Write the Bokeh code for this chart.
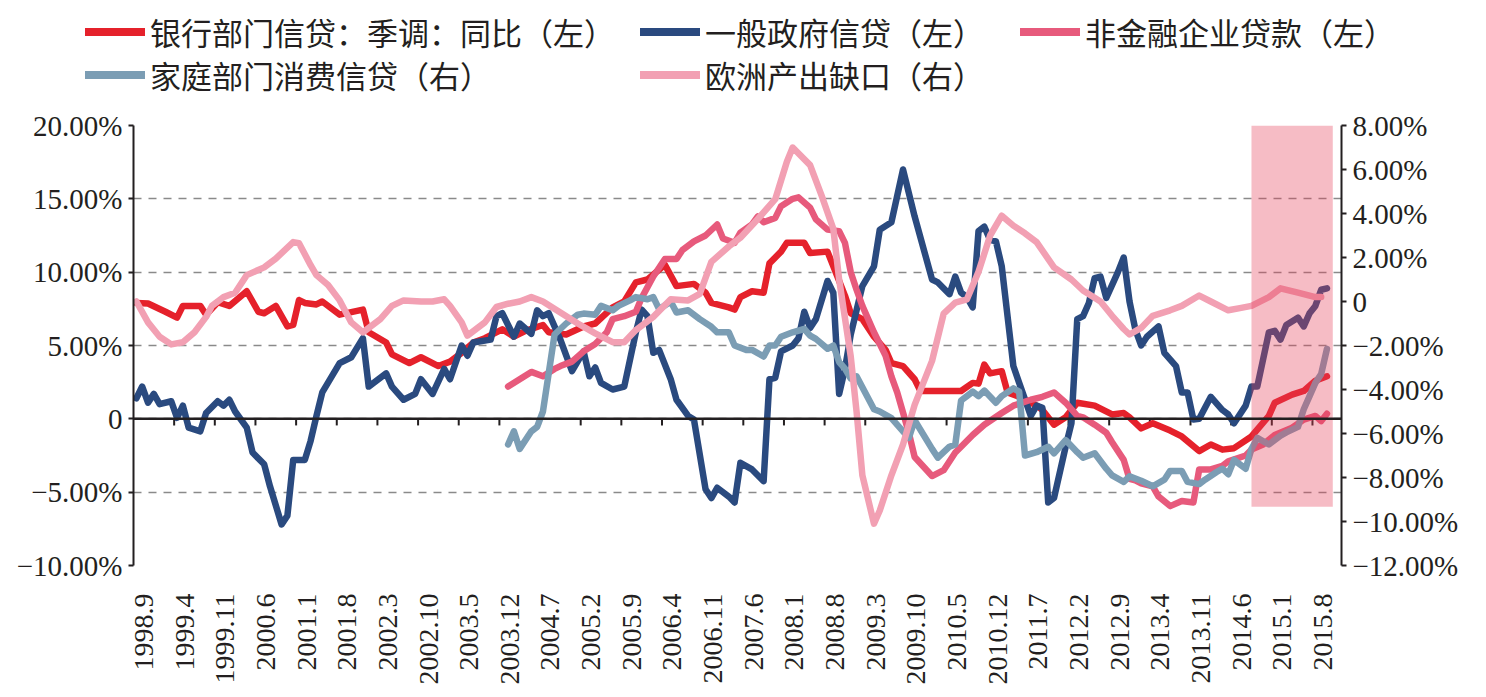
import math

from bokeh.embed import file_html
from bokeh.layouts import column
from bokeh.models import Div, FixedTicker, LinearAxis, Range1d, Span
from bokeh.plotting import figure
from bokeh.resources import INLINE

# ---------------------------------------------------------------------------
# Category axis: monthly slots from 1998.9; labels every 7 months
# ---------------------------------------------------------------------------
month_slots = 208
tick_labels = [
    "1998.9", "1999.4", "1999.11", "2000.6", "2001.1", "2001.8", "2002.3",
    "2002.10", "2003.5", "2003.12", "2004.7", "2005.2", "2005.9", "2006.4",
    "2006.11", "2007.6", "2008.1", "2008.8", "2009.3", "2009.10", "2010.5",
    "2010.12", "2011.7", "2012.2", "2012.9", "2013.4", "2013.11", "2014.6",
    "2015.1", "2015.8",
]

left_ticks = [-10, -5, 0, 5, 10, 15, 20]
right_ticks = [-12, -10, -8, -6, -4, -2, 0, 2, 4, 6, 8]

# highlighted period (left-axis value of its lower edge)
shaded_period = ("2014.9", "2015.10")
shaded_floor = -6.0

# ---------------------------------------------------------------------------
# Series: (month, value in %)
# ---------------------------------------------------------------------------
bank_credit = [  # 银行部门信贷：季调：同比（左）
    ("1998.9", 7.9), ("1998.11", 7.86), ("1999.2", 7.3), ("1999.4", 6.9),
    ("1999.5", 7.7), ("1999.8", 7.7), ("1999.9", 7.1), ("1999.11", 7.95),
    ("2000.1", 7.7), ("2000.4", 8.7), ("2000.6", 7.3), ("2000.7", 7.2),
    ("2000.9", 7.7), ("2000.11", 6.3), ("2000.12", 6.4), ("2001.1", 8.1),
    ("2001.2", 7.9), ("2001.4", 7.8), ("2001.5", 8.0), ("2001.8", 7.1),
    ("2001.12", 7.45), ("2002.1", 5.9), ("2002.4", 5.2), ("2002.5", 4.4),
    ("2002.8", 3.8), ("2002.10", 4.2), ("2003.1", 3.6), ("2003.3", 3.9),
    ("2003.5", 4.5), ("2003.7", 5.2), ("2003.9", 5.5), ("2003.12", 6.1),
    ("2004.2", 5.6), ("2004.4", 6.0), ("2004.7", 6.4), ("2004.8", 5.9),
    ("2004.11", 5.75), ("2005.2", 6.3), ("2005.4", 6.5), ("2005.7", 7.6),
    ("2005.9", 8.0), ("2005.11", 9.3), ("2006.1", 9.5), ("2006.4", 10.5),
    ("2006.6", 9.05), ("2006.9", 9.2), ("2006.11", 8.6), ("2006.12", 7.9),
    ("2007.3", 7.6), ("2007.4", 7.45), ("2007.5", 8.3), ("2007.7", 8.7),
    ("2007.9", 8.6), ("2007.10", 10.6), ("2007.12", 11.4), ("2008.1", 12.0),
    ("2008.4", 12.0), ("2008.5", 11.3), ("2008.8", 11.4), ("2008.9", 10.4),
    ("2008.11", 8.4), ("2008.12", 7.2), ("2009.2", 6.8), ("2009.4", 5.6),
    ("2009.6", 4.7), ("2009.7", 3.8), ("2009.9", 3.6), ("2009.11", 2.7),
    ("2009.12", 1.9), ("2010.4", 1.9), ("2010.7", 1.9), ("2010.9", 2.45),
    ("2010.10", 2.4), ("2010.11", 3.7), ("2010.12", 3.1), ("2011.2", 3.25),
    ("2011.3", 1.8), ("2011.5", 1.5), ("2011.8", 0.9), ("2011.9", 0.6),
    ("2011.11", -0.4), ("2012.1", 0.1), ("2012.3", 1.1), ("2012.6", 0.9),
    ("2012.9", 0.3), ("2012.11", 0.4), ("2012.12", 0.1), ("2013.2", -0.65),
    ("2013.4", -0.3), ("2013.7", -0.8), ("2013.9", -1.2), ("2013.12", -2.2),
    ("2014.2", -1.75), ("2014.4", -2.1), ("2014.6", -2.0), ("2014.9", -1.2),
    ("2014.12", 0.2), ("2015.1", 1.1), ("2015.4", 1.65), ("2015.6", 1.9),
    ("2015.8", 2.6), ("2015.10", 2.9),
]

government_credit = [  # 一般政府信贷（左）
    ("1998.9", 1.4), ("1998.10", 2.2), ("1998.11", 1.1), ("1998.12", 1.7),
    ("1999.1", 1.0), ("1999.3", 1.2), ("1999.4", 0.07), ("1999.5", 0.9),
    ("1999.6", -0.6), ("1999.8", -0.85), ("1999.9", 0.4), ("1999.11", 1.2),
    ("1999.12", 0.9), ("2000.1", 1.3), ("2000.2", 0.5), ("2000.4", -0.6),
    ("2000.5", -2.3), ("2000.7", -3.1), ("2000.8", -4.6), ("2000.10", -7.2),
    ("2000.11", -6.6), ("2000.12", -2.8), ("2001.2", -2.8), ("2001.3", -1.5),
    ("2001.4", 0.2), ("2001.5", 1.8), ("2001.8", 3.8), ("2001.10", 4.2),
    ("2001.12", 5.5), ("2002.1", 2.2), ("2002.4", 3.1), ("2002.5", 2.2),
    ("2002.7", 1.3), ("2002.9", 1.7), ("2002.10", 2.7), ("2002.12", 1.7),
    ("2003.2", 3.4), ("2003.3", 2.7), ("2003.5", 5.0), ("2003.6", 4.3),
    ("2003.7", 5.2), ("2003.10", 5.4), ("2003.11", 7.0), ("2003.12", 7.2),
    ("2004.2", 5.6), ("2004.3", 6.5), ("2004.5", 5.8), ("2004.6", 7.4),
    ("2004.7", 7.0), ("2004.8", 7.2), ("2004.10", 5.4), ("2004.12", 3.25),
    ("2005.2", 4.6), ("2005.3", 2.9), ("2005.4", 3.5), ("2005.5", 2.45),
    ("2005.7", 2.0), ("2005.9", 2.2), ("2005.11", 5.9), ("2005.12", 7.45),
    ("2006.1", 7.0), ("2006.2", 4.5), ("2006.3", 4.7), ("2006.5", 2.7),
    ("2006.6", 1.3), ("2006.8", 0.2), ("2006.9", -0.05), ("2006.11", -4.8),
    ("2006.12", -5.4), ("2007.1", -4.7), ("2007.3", -5.3), ("2007.4", -5.7),
    ("2007.5", -3.0), ("2007.7", -3.45), ("2007.9", -4.25), ("2007.10", 2.7),
    ("2007.11", 2.8), ("2007.12", 4.6), ("2008.2", 5.0), ("2008.3", 5.5),
    ("2008.4", 7.3), ("2008.5", 6.2), ("2008.6", 6.8), ("2008.8", 9.4),
    ("2008.9", 8.6), ("2008.10", 1.7), ("2008.11", 3.4), ("2008.12", 5.75),
    ("2009.2", 9.05), ("2009.4", 10.4), ("2009.5", 12.9), ("2009.7", 13.4),
    ("2009.9", 17.0), ("2009.11", 13.8), ("2010.2", 9.5), ("2010.3", 9.3),
    ("2010.5", 8.5), ("2010.6", 9.7), ("2010.7", 8.6), ("2010.8", 8.3),
    ("2010.9", 7.6), ("2010.10", 12.8), ("2010.11", 13.1), ("2010.12", 12.2),
    ("2011.1", 12.1), ("2011.2", 10.4), ("2011.4", 3.6), ("2011.5", 2.45),
    ("2011.7", 0.2), ("2011.8", 0.9), ("2011.9", 0.75), ("2011.10", -5.7),
    ("2011.11", -5.4), ("2012.1", -1.9), ("2012.2", -0.3), ("2012.3", 6.8),
    ("2012.4", 7.0), ("2012.5", 7.9), ("2012.6", 9.6), ("2012.7", 9.7),
    ("2012.8", 8.25), ("2012.10", 10.0), ("2012.11", 11.0), ("2012.12", 8.0),
    ("2013.1", 6.1), ("2013.2", 5.0), ("2013.3", 5.6), ("2013.5", 6.3),
    ("2013.6", 4.5), ("2013.8", 3.6), ("2013.9", 1.8), ("2013.10", 1.8),
    ("2013.11", -0.05), ("2013.12", 0.0), ("2014.2", 1.5), ("2014.4", 0.6),
    ("2014.5", 0.3), ("2014.6", -0.3), ("2014.8", 0.9), ("2014.9", 2.2),
    ("2014.10", 2.2), ("2014.12", 5.9), ("2015.1", 6.0), ("2015.2", 5.4),
    ("2015.3", 6.4), ("2015.5", 6.9), ("2015.6", 6.3), ("2015.7", 7.2),
    ("2015.8", 7.7), ("2015.9", 8.8), ("2015.10", 8.9),
]

corporate_loans = [  # 非金融企业贷款（左）
    ("2004.1", 2.2), ("2004.3", 2.7), ("2004.5", 3.2), ("2004.7", 2.9),
    ("2004.9", 3.4), ("2004.10", 3.6), ("2004.12", 3.9), ("2005.2", 4.6),
    ("2005.4", 5.1), ("2005.6", 5.9), ("2005.7", 6.8), ("2005.9", 7.0),
    ("2005.11", 7.3), ("2005.12", 8.25), ("2006.2", 9.7), ("2006.4", 10.9),
    ("2006.6", 10.9), ("2006.7", 11.5), ("2006.9", 12.1), ("2006.11", 12.5),
    ("2007.1", 13.25), ("2007.2", 12.3), ("2007.4", 12.0), ("2007.5", 12.7),
    ("2007.7", 13.25), ("2007.8", 13.8), ("2007.9", 13.4), ("2007.11", 13.7),
    ("2007.12", 14.5), ("2008.2", 15.0), ("2008.3", 15.1), ("2008.5", 14.4),
    ("2008.6", 13.6), ("2008.8", 12.9), ("2008.10", 12.8), ("2008.11", 12.0),
    ("2008.12", 10.0), ("2009.1", 8.8), ("2009.2", 7.7), ("2009.4", 5.9),
    ("2009.6", 4.3), ("2009.7", 2.9), ("2009.8", 1.8), ("2009.10", -0.95),
    ("2009.11", -2.6), ("2010.2", -3.9), ("2010.4", -3.5), ("2010.6", -2.3),
    ("2010.7", -1.9), ("2010.9", -1.1), ("2010.11", -0.4), ("2011.2", 0.4),
    ("2011.4", 0.9), ("2011.7", 1.3), ("2011.9", 1.5), ("2011.11", 1.8),
    ("2012.1", 1.1), ("2012.3", 0.2), ("2012.4", 0.1), ("2012.6", -0.4),
    ("2012.8", -0.95), ("2012.9", -1.6), ("2012.11", -2.8), ("2012.12", -4.1),
    ("2013.1", -4.2), ("2013.2", -4.4), ("2013.4", -4.6), ("2013.5", -5.3),
    ("2013.7", -5.95), ("2013.9", -5.6), ("2013.11", -5.7), ("2013.12", -3.45),
    ("2014.2", -3.45), ("2014.4", -3.2), ("2014.5", -2.9), ("2014.8", -2.5),
    ("2014.9", -2.1), ("2014.11", -1.75), ("2015.1", -1.1), ("2015.4", -0.6),
    ("2015.6", -0.05), ("2015.8", 0.2), ("2015.9", -0.15), ("2015.10", 0.35),
]

household_credit = [  # 家庭部门消费信贷（右）
    ("2004.1", -6.5), ("2004.2", -5.9), ("2004.3", -6.7), ("2004.5", -5.9),
    ("2004.6", -5.7), ("2004.7", -5.0), ("2004.9", -1.5), ("2004.11", -1.0),
    ("2005.1", -0.6), ("2005.2", -0.55), ("2005.4", -0.6), ("2005.5", -0.2),
    ("2005.7", -0.4), ("2005.8", -0.2), ("2005.10", 0.05), ("2005.11", 0.2),
    ("2006.1", 0.1), ("2006.2", 0.2), ("2006.3", -0.35), ("2006.5", 0.0),
    ("2006.6", -0.5), ("2006.8", -0.4), ("2006.10", -0.8), ("2006.12", -1.15),
    ("2007.1", -1.4), ("2007.3", -1.4), ("2007.4", -2.0), ("2007.6", -2.2),
    ("2007.7", -2.2), ("2007.9", -2.5), ("2007.10", -2.0), ("2007.11", -2.0),
    ("2007.12", -1.6), ("2008.2", -1.4), ("2008.4", -1.25), ("2008.5", -1.55),
    ("2008.6", -1.7), ("2008.8", -2.15), ("2008.9", -2.0), ("2008.10", -2.75),
    ("2008.11", -3.05), ("2008.12", -3.5), ("2009.1", -3.4), ("2009.2", -3.9),
    ("2009.4", -4.9), ("2009.5", -5.0), ("2009.7", -5.3), ("2009.9", -5.9),
    ("2009.10", -6.2), ("2009.11", -5.4), ("2010.2", -6.7), ("2010.3", -7.1),
    ("2010.5", -6.6), ("2010.6", -6.5), ("2010.7", -4.5), ("2010.8", -4.3),
    ("2010.9", -4.1), ("2010.10", -4.3), ("2010.11", -4.05), ("2011.1", -4.6),
    ("2011.2", -4.3), ("2011.4", -3.95), ("2011.5", -4.1), ("2011.6", -7.0),
    ("2011.8", -6.85), ("2011.10", -6.6), ("2011.11", -6.9), ("2012.1", -6.3),
    ("2012.3", -6.85), ("2012.4", -7.1), ("2012.6", -6.9), ("2012.8", -7.6),
    ("2012.9", -7.9), ("2012.11", -8.2), ("2012.12", -7.95), ("2013.2", -8.15),
    ("2013.4", -8.4), ("2013.6", -8.1), ("2013.7", -7.7), ("2013.9", -7.7),
    ("2013.10", -8.2), ("2013.12", -8.3), ("2014.1", -8.1), ("2014.3", -7.75),
    ("2014.4", -7.6), ("2014.5", -7.85), ("2014.6", -7.2), ("2014.7", -7.4),
    ("2014.8", -7.6), ("2014.9", -6.7), ("2014.10", -6.2), ("2014.12", -6.5),
    ("2015.2", -6.1), ("2015.3", -5.95), ("2015.5", -5.7), ("2015.6", -4.9),
    ("2015.7", -4.3), ("2015.8", -3.7), ("2015.9", -3.3), ("2015.10", -2.15),
]

euro_output_gap = [  # 欧洲产出缺口（右）
    ("1998.9", 0.0), ("1998.11", -0.95), ("1999.1", -1.6), ("1999.3", -1.95),
    ("1999.5", -1.85), ("1999.7", -1.4), ("1999.9", -0.7), ("1999.10", -0.2),
    ("1999.12", 0.2), ("2000.2", 0.4), ("2000.4", 1.2), ("2000.7", 1.55),
    ("2000.9", 1.95), ("2000.12", 2.7), ("2001.1", 2.65), ("2001.3", 1.65),
    ("2001.4", 1.2), ("2001.6", 0.75), ("2001.8", 0.05), ("2001.10", -0.95),
    ("2001.12", -1.4), ("2002.3", -0.8), ("2002.5", -0.2), ("2002.7", 0.05),
    ("2002.10", 0.0), ("2002.12", 0.0), ("2003.2", 0.1), ("2003.3", -0.2),
    ("2003.5", -0.95), ("2003.6", -1.55), ("2003.9", -0.95), ("2003.11", -0.25),
    ("2004.1", -0.1), ("2004.3", 0.0), ("2004.5", 0.2), ("2004.7", 0.0),
    ("2004.10", -0.5), ("2005.1", -1.0), ("2005.4", -1.45), ("2005.7", -1.85),
    ("2005.9", -1.85), ("2005.11", -1.3), ("2006.2", -0.7), ("2006.5", 0.1),
    ("2006.8", 0.05), ("2006.10", 0.35), ("2006.12", 1.8), ("2007.3", 2.5),
    ("2007.5", 2.9), ("2007.8", 3.75), ("2007.11", 4.65), ("2008.1", 6.35),
    ("2008.2", 7.0), ("2008.5", 6.2), ("2008.7", 4.8), ("2008.9", 3.3),
    ("2008.10", 1.0), ("2008.12", -2.5), ("2009.1", -5.0), ("2009.2", -7.9),
    ("2009.4", -10.1), ("2009.5", -9.5), ("2009.7", -7.9), ("2009.9", -6.5),
    ("2009.11", -4.7), ("2010.2", -2.7), ("2010.4", -0.55), ("2010.6", -0.05),
    ("2010.8", 0.1), ("2010.10", 1.35), ("2010.12", 3.0), ("2011.2", 3.9),
    ("2011.4", 3.45), ("2011.6", 3.1), ("2011.8", 2.7), ("2011.11", 1.55),
    ("2012.2", 1.0), ("2012.4", 0.5), ("2012.7", 0.0), ("2012.9", -0.65),
    ("2012.11", -1.25), ("2012.12", -1.5), ("2013.2", -1.2), ("2013.4", -0.65),
    ("2013.7", -0.4), ("2013.9", -0.2), ("2013.12", 0.27), ("2014.2", 0.0),
    ("2014.5", -0.4), ("2014.7", -0.3), ("2014.9", -0.2), ("2014.12", 0.2),
    ("2015.2", 0.6), ("2015.5", 0.4), ("2015.8", 0.2), ("2015.9", 0.2),
]

series_names = {
    "bank": "银行部门信贷：季调：同比（左）",
    "gov": "一般政府信贷（左）",
    "corp": "非金融企业贷款（左）",
    "house": "家庭部门消费信贷（右）",
    "gap": "欧洲产出缺口（右）",
}

series_colors = {
    "bank": "#E5212B",
    "gov": "#2A4A7F",
    "corp": "#E75A7C",
    "house": "#7B9DB4",
    "gap": "#F2A0B3",
}


def month_index(label):
    year, month = label.split(".")
    return (int(year) - 1998) * 12 + int(month) - 9


def split(series):
    return [month_index(d) for d, _ in series], [v for _, v in series]


def pct(v):
    if v == 0:
        return "0"
    sign = "\u2212" if v < 0 else ""
    return f"{sign}{abs(v):.2f}%"


INK = "#231F20"
SERIF = "Liberation Serif"
CJK = "Noto Sans CJK SC"
LABEL_SIZE = "29px"
# rotated date labels sit slightly right of their month slot
label_shift = 1.3

# ---------------------------------------------------------------------------
# Main chart
# ---------------------------------------------------------------------------
p = figure(
    width=1486, height=597,
    x_range=Range1d(-0.5, month_slots - 0.5),
    y_range=Range1d(-10, 20),
    output_backend="svg", toolbar_location=None,
    min_border_left=133, min_border_right=145,
    min_border_top=25, min_border_bottom=132,
)
p.extra_y_ranges = {"right": Range1d(-12, 8)}
p.outline_line_color = None
p.background_fill_color = "white"
p.border_fill_color = "white"

# bottom axis: rotated date labels only
xa = p.xaxis[0]
xa.ticker = FixedTicker(ticks=[month_index(t) + label_shift for t in tick_labels])
xa.major_label_overrides = {month_index(t) + label_shift: t for t in tick_labels}
xa.major_label_orientation = math.pi / 2
xa.axis_line_color = None
xa.major_tick_line_color = None
xa.minor_tick_line_color = None
xa.major_label_standoff = 22
xa.major_label_text_font = SERIF
xa.major_label_text_font_size = "28px"
xa.major_label_text_color = INK


def style_value_axis(ax, ticks):
    ax.ticker = FixedTicker(ticks=ticks)
    ax.major_label_overrides = {t: pct(t) for t in ticks}
    ax.axis_line_width = 2
    ax.axis_line_color = INK
    ax.major_tick_line_color = INK
    ax.major_tick_line_width = 2
    ax.major_tick_in = 0
    ax.major_tick_out = 5
    ax.minor_tick_line_color = None
    ax.major_label_standoff = 6
    ax.major_label_text_font = SERIF
    ax.major_label_text_font_size = LABEL_SIZE
    ax.major_label_text_color = INK


style_value_axis(p.yaxis[0], left_ticks)
ra = LinearAxis(y_range_name="right")
style_value_axis(ra, right_ticks)
p.add_layout(ra, "right")

# dashed horizontal grid
p.xgrid.visible = False
p.ygrid.ticker = FixedTicker(ticks=left_ticks)
p.ygrid.grid_line_color = "#8A8A8A"
p.ygrid.grid_line_width = 1.5
p.ygrid.grid_line_dash = "8 7"

# zero line with category tick marks hanging below it
p.add_layout(Span(location=0, dimension="width", line_color=INK, line_width=2.5))
bounds = [month_index(t) - 0.5 for t in tick_labels[1:]]
p.segment(x0=bounds, y0=[0] * len(bounds), x1=bounds, y1=[-0.45] * len(bounds),
          line_color=INK, line_width=2)

# series (left-axis first, right-axis on top)
style = dict(line_width=6.5, line_join="round", line_cap="round")
for key, data in (("bank", bank_credit), ("gov", government_credit), ("corp", corporate_loans)):
    x, y = split(data)
    p.line(x, y, line_color=series_colors[key], **style)
for key, data in (("house", household_credit), ("gap", euro_output_gap)):
    x, y = split(data)
    p.line(x, y, line_color=series_colors[key], y_range_name="right", **style)

# highlighted period, drawn over the lines
p.quad(left=[month_index(shaded_period[0])], right=[month_index(shaded_period[1]) + 1],
       bottom=[shaded_floor], top=[20], fill_color="#E5405A", fill_alpha=0.35,
       line_color=None)

# ---------------------------------------------------------------------------
# Legend strip above the chart: two rows, three columns
# ---------------------------------------------------------------------------
legend_layout = [  # (series, column left edge, row centre)
    ("bank", 85, 32), ("gov", 640, 32), ("corp", 1020, 32),
    ("house", 85, 75), ("gap", 640, 75),
]

parts = []
for key, left, mid in legend_layout:
    parts.append(
        f'<span style="position:absolute;left:{left}px;top:{mid - 4}px;width:60px;'
        f'height:8px;background:{series_colors[key]};"></span>'
    )
    parts.append(
        f'<span style="position:absolute;left:{left + 65}px;top:{mid - 21}px;'
        f'line-height:42px;white-space:nowrap;">{series_names[key]}</span>'
    )

legend_div = Div(
    text=(
        f'<div style="position:relative;width:1486px;height:100px;'
        f"font-family:'{CJK}';font-size:31px;color:{INK};\">" + "".join(parts) + "</div>"
    ),
    width=1486, height=100, margin=0,
)

open("out.html", "w").write(file_html(column(legend_div, p, spacing=0), INLINE))
